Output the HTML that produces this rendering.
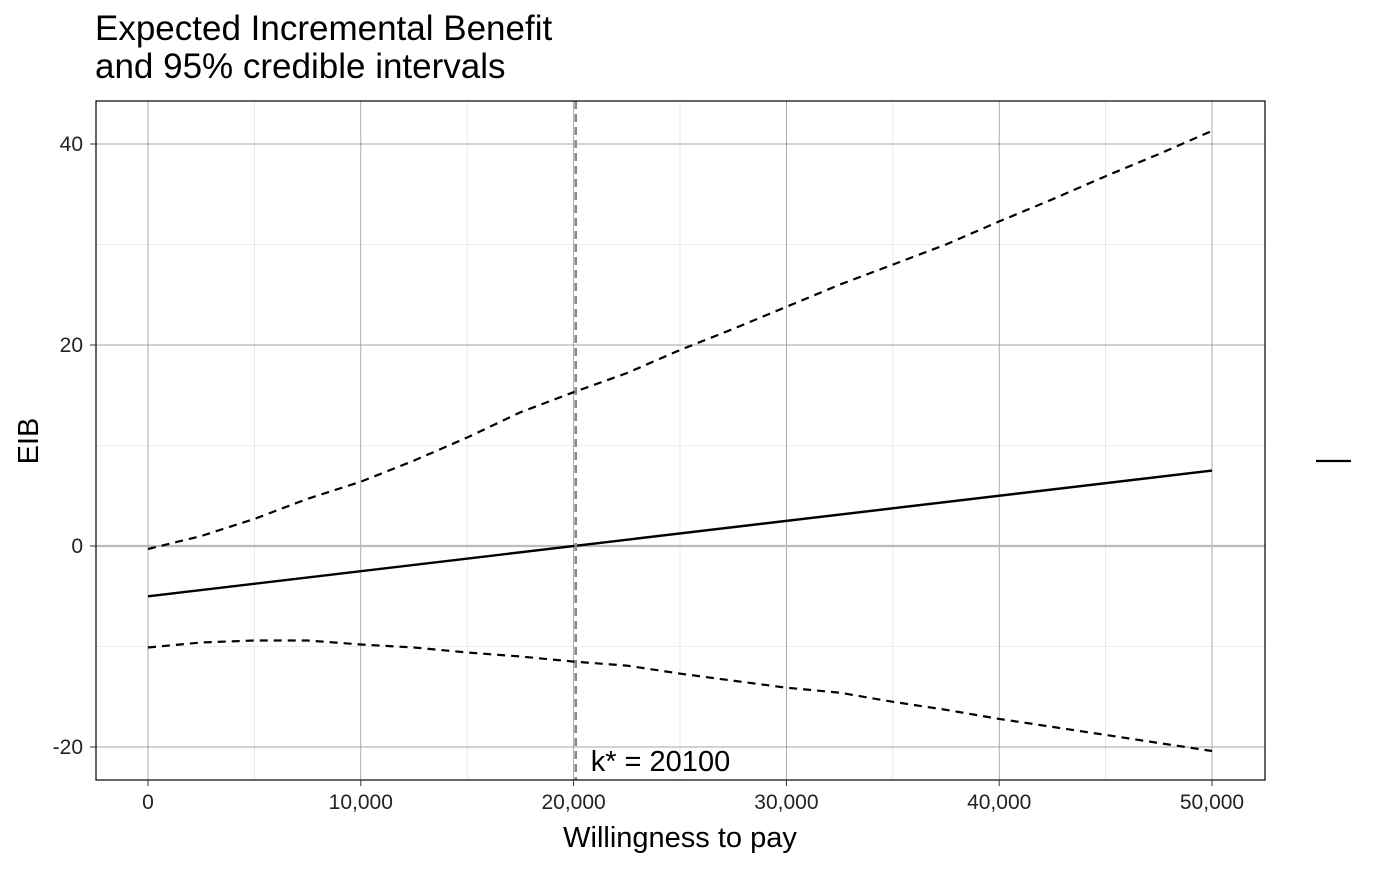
<!DOCTYPE html>
<html><head><meta charset="utf-8"><style>
body{margin:0;background:#fff;font-family:"Liberation Sans",Arial,sans-serif}
</style></head><body>
<svg id="chart" width="1400" height="866" xmlns="http://www.w3.org/2000/svg" font-family="Liberation Sans, Arial, sans-serif">
<text x="95" y="40" font-size="35">Expected Incremental Benefit</text>
<text x="95" y="78" font-size="35">and 95% credible intervals</text>
<g id="grid"></g>
<g id="marks"></g>
<rect x="96" y="101" width="1169" height="679" fill="none" stroke="#000" stroke-width="1.2"/>
<g id="axes"></g>
<text x="680" y="847" font-size="29" text-anchor="middle">Willingness to pay</text>
<text transform="translate(38,441) rotate(-90)" font-size="29" text-anchor="middle">EIB</text>
<line x1="1316" y1="461" x2="1351" y2="461" stroke="#000" stroke-width="2.2"/>
</svg>
<script>
const wtp=[0,2500,5000,7500,10000,12500,15000,17500,20000,22500,25000,27500,30000,32500,35000,37500,40000,42500,45000,47500,50000];
const upper=[-0.3,1.0,2.7,4.7,6.4,8.5,10.8,13.3,15.3,17.2,19.5,21.6,23.8,26,28,30,32.3,34.5,36.8,39,41.3];
const lower=[-10.1,-9.6,-9.4,-9.4,-9.8,-10.1,-10.6,-11,-11.5,-11.9,-12.7,-13.4,-14.1,-14.6,-15.5,-16.3,-17.2,-18.0,-18.8,-19.6,-20.4];
const meanEib=[-5,7.5];
const meanWtp=[0,50000];
const kStar=20100;
const xTicks=[0,10000,20000,30000,40000,50000];
const xTickLabels=["0","10,000","20,000","30,000","40,000","50,000"];
const yTicks=[-20,0,20,40];
const xMinor=[5000,15000,25000,35000,45000];
const yMinor=[-10,10,30];
const NS="http://www.w3.org/2000/svg";
const X=v=>148+v*(1212-148)/50000;
const Y=v=>546-v*(546-144)/40;
function mk(tag,attrs,parent){const e=document.createElementNS(NS,tag);for(const k in attrs)e.setAttribute(k,attrs[k]);document.getElementById(parent).appendChild(e);return e;}
xMinor.forEach(v=>{const e=mk('line',{x1:X(v),x2:X(v),y1:101,y2:780,stroke:'#ddd','stroke-width':0.6},'grid');
});
yMinor.forEach(v=>{const e=mk('line',{x1:96,x2:1265,y1:Y(v),y2:Y(v),stroke:'#ddd','stroke-width':0.6},'grid');
});
xTicks.forEach((v,i)=>{const e=mk('line',{x1:X(v),x2:X(v),y1:101,y2:780,stroke:'#888','stroke-width':0.7},'grid');

const t=mk('line',{x1:X(v),x2:X(v),y1:780,y2:786,stroke:'#333','stroke-width':1},'axes');

const l=mk('text',{x:X(v),y:809,'font-size':21,'text-anchor':'middle',fill:'#222'},'axes');l.textContent=xTickLabels[i];
});
yTicks.forEach(v=>{const e=mk('line',{x1:96,x2:1265,y1:Y(v),y2:Y(v),stroke:'#888','stroke-width':0.7},'grid');

const t=mk('line',{x1:90,x2:96,y1:Y(v),y2:Y(v),stroke:'#333','stroke-width':1},'axes');

const l=mk('text',{x:83,y:Y(v)+7,'font-size':21,'text-anchor':'end',fill:'#222'},'axes');l.textContent=v;
});
const z=mk('line',{x1:96,x2:1265,y1:Y(0),y2:Y(0),stroke:'#bbb','stroke-width':2.2},'marks');

const path=(xs,ys)=>xs.map((x,i)=>(i?'L':'M')+X(x).toFixed(1)+','+Y(ys[i]).toFixed(1)).join('');
const up=mk('path',{d:path(wtp,upper),fill:'none',stroke:'#000','stroke-width':2.2,'stroke-dasharray':'8,6'},'marks');

const lo=mk('path',{d:path(wtp,lower),fill:'none',stroke:'#000','stroke-width':2.2,'stroke-dasharray':'8,6'},'marks');

const m=mk('path',{d:path(meanWtp,meanEib),fill:'none',stroke:'#000','stroke-width':2.4},'marks');

const k=mk('line',{x1:X(kStar),x2:X(kStar),y1:101,y2:780,stroke:'#888','stroke-width':2.6,'stroke-dasharray':'8,5'},'marks');

const kl=mk('text',{x:X(kStar)+15,y:771,'font-size':29},'marks');kl.textContent='k* = '+kStar;

</script>
</body></html>
